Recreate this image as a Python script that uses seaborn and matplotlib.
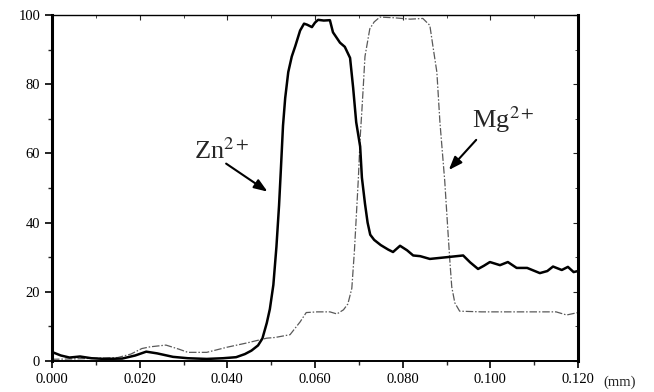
import numpy as np
import pandas as pd
import seaborn as sns
import matplotlib.pyplot as plt
from matplotlib.ticker import MultipleLocator, FormatStrFormatter

# Perfil Zn2+ (linea continua)
zn_x = [0.000, 0.002, 0.004, 0.0064, 0.009, 0.012, 0.016, 0.019, 0.0215, 0.024,
        0.0276, 0.031, 0.0353, 0.039, 0.042, 0.044, 0.0455, 0.047, 0.048, 0.049,
        0.0497, 0.0505, 0.0512, 0.0518, 0.0522, 0.0527, 0.0532, 0.0539, 0.0547, 0.0555,
        0.0566, 0.0575, 0.0582, 0.0593, 0.0600, 0.0607, 0.0620, 0.0634, 0.0641, 0.0657,
        0.0668, 0.0680, 0.0687, 0.0694, 0.0703, 0.0707, 0.0714, 0.0720, 0.0726, 0.0735,
        0.0750, 0.0767, 0.0778, 0.0794, 0.0810, 0.0824, 0.0840, 0.0862, 0.0885, 0.0908,
        0.0938, 0.0954, 0.0972, 0.0985, 0.0999, 0.1022, 0.1040, 0.1060, 0.1084, 0.1113,
        0.1130, 0.1143, 0.1163, 0.1177, 0.1190, 0.1200]
zn_y = [2.6, 1.6, 1.0, 1.3, 0.8, 0.6, 0.7, 1.6, 2.7, 2.2,
        1.2, 0.8, 0.6, 0.8, 1.1, 2.0, 3.0, 4.5, 6.5, 11,
        15, 22, 33, 45, 55, 68, 76, 83.5, 88, 91,
        95.5, 97.5, 97.2, 96.5, 97.8, 98.6, 98.4, 98.5, 95, 92,
        90.8, 87.6, 79, 69, 62, 53, 45.5, 40, 36.5, 35,
        33.5, 32.2, 31.5, 33.3, 32, 30.5, 30.3, 29.5, 29.8, 30.1,
        30.5, 28.5, 26.6, 27.5, 28.6, 27.7, 28.6, 26.9, 26.9, 25.4,
        26.0, 27.3, 26.3, 27.2, 25.7, 26.0]

# Perfil Mg2+ (linea discontinua)
mg_x = [0.000, 0.005, 0.010, 0.015, 0.018, 0.0205, 0.0224, 0.026, 0.029, 0.031,
        0.0353, 0.040, 0.0444, 0.049, 0.0509, 0.0543, 0.0566, 0.058, 0.0605, 0.0634,
        0.065, 0.0665, 0.0675, 0.0684, 0.0690, 0.0695, 0.0699, 0.0703, 0.0707, 0.0710,
        0.0714, 0.0725, 0.0735, 0.0748, 0.0780, 0.0817, 0.0846, 0.0862, 0.0869, 0.0878,
        0.0885, 0.0896, 0.0903, 0.0908, 0.0912, 0.0919, 0.0930, 0.0980, 0.1050, 0.1100,
        0.1150, 0.1174, 0.1200]
mg_y = [0.5, 0.6, 0.8, 1.0, 2.0, 3.6, 4.1, 4.6, 3.4, 2.5,
        2.5, 4.0, 5.2, 6.6, 6.8, 7.6, 11.3, 14.0, 14.2, 14.2,
        13.6, 14.8, 16.5, 21, 32, 43.6, 53, 64.5, 72.5, 79,
        88, 96, 98, 99.4, 99.2, 98.8, 99, 97, 91, 83.5,
        69, 52, 38, 28.3, 21.4, 16.8, 14.4, 14.2, 14.2, 14.2,
        14.2, 13.3, 14.0]

sns.set_style("ticks")
plt.rcParams['font.family'] = ['Liberation Serif', 'DejaVu Serif']
plt.rcParams['mathtext.fontset'] = 'stix'

fig = plt.figure(figsize=(6.54, 3.92), dpi=100)
ax = fig.add_axes([52 / 654, 1 - 361 / 392, 526 / 654, 346 / 392])

df_zn = pd.DataFrame({'x': zn_x, 'y': zn_y})
df_mg = pd.DataFrame({'x': mg_x, 'y': mg_y})

sns.lineplot(data=df_mg, x='x', y='y', ax=ax, color='0.35', linewidth=0.9,
             linestyle=(0, (6, 1.5, 1.2, 1.5)), estimator=None)
sns.lineplot(data=df_zn, x='x', y='y', ax=ax, color='black', linewidth=1.8,
             estimator=None)

ax.set_xlim(0, 0.12)
ax.set_ylim(0, 100)
ax.set_xlabel('')
ax.set_ylabel('')

ax.xaxis.set_major_locator(MultipleLocator(0.02))
ax.xaxis.set_minor_locator(MultipleLocator(0.01))
ax.yaxis.set_major_locator(MultipleLocator(20))
ax.yaxis.set_minor_locator(MultipleLocator(10))
ax.xaxis.set_major_formatter(FormatStrFormatter('%.3f'))

ax.tick_params(axis='both', which='major', labelsize=10.5, length=5, width=1.2,
               colors='black')
ax.tick_params(axis='both', which='minor', length=3, width=1)
ax.tick_params(axis='x', which='both', direction='out', top=True)
ax.tick_params(axis='y', which='both', direction='out', right=True)

for side, lw in [('left', 2.2), ('right', 2.2), ('bottom', 1.4), ('top', 1.0)]:
    ax.spines[side].set_visible(True)
    ax.spines[side].set_linewidth(lw)
    ax.spines[side].set_color('black')

# ticks del lado derecho y superior apuntando hacia adentro
ax2 = ax.secondary_yaxis('right')
ax2.yaxis.set_major_locator(MultipleLocator(20))
ax2.yaxis.set_minor_locator(MultipleLocator(10))
ax2.tick_params(which='both', direction='in', labelright=False)
ax2.spines['right'].set_visible(False)
ax.tick_params(axis='y', which='both', right=False)
ax3 = ax.secondary_xaxis('top')
ax3.xaxis.set_major_locator(MultipleLocator(0.02))
ax3.xaxis.set_minor_locator(MultipleLocator(0.01))
ax3.tick_params(which='both', direction='in', labeltop=False)
ax3.spines['top'].set_visible(False)
ax.tick_params(axis='x', which='both', top=False)

# etiquetas con flechas
ax.text(0.0325, 58.5, r'Zn$^{2+}$', fontsize=19, ha='left', va='baseline')
ax.annotate('', xy=(0.0497, 48.5), xytext=(0.0392, 57.5),
            arrowprops=dict(arrowstyle='-|>,head_length=0.8,head_width=0.3',
                            color='black', lw=1.5))
ax.text(0.0958, 67.5, r'Mg$^{2+}$', fontsize=19, ha='left', va='baseline')
ax.annotate('', xy=(0.0901, 54.6), xytext=(0.0972, 64.5),
            arrowprops=dict(arrowstyle='-|>,head_length=0.8,head_width=0.3',
                            color='black', lw=1.5))

fig.text(620 / 654, 1 - 382 / 392, '(mm)', fontsize=10.5, ha='center', va='center')

fig.savefig('out.png', dpi=100)
